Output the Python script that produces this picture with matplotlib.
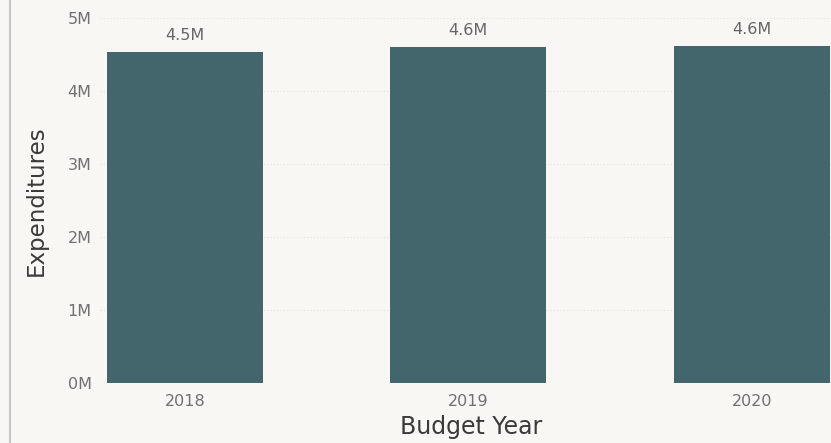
import matplotlib
matplotlib.use("Agg")
import matplotlib.pyplot as plt
from matplotlib.ticker import FuncFormatter
from matplotlib.lines import Line2D

years = ["2018", "2019", "2020"]
expenditures = [4.54e6, 4.60e6, 4.62e6]
bar_labels = ["4.5M", "4.6M", "4.6M"]

bg = "#f9f7f3"
bar_color = "#43656c"

W, H = 831, 443
fig = plt.figure(figsize=(W / 100, H / 100), dpi=100, facecolor=bg)
ax = fig.add_axes([100 / W, 60 / H, 731 / W, 365 / H])
ax.set_facecolor(bg)

x = list(range(len(years)))
bars = ax.bar(x, expenditures, width=0.55, color=bar_color, zorder=3)

ax.set_xlim(-0.3, 2.28)
ax.set_ylim(0, 5e6)
ax.set_yticks([0, 1e6, 2e6, 3e6, 4e6, 5e6])
ax.yaxis.set_major_formatter(FuncFormatter(lambda v, p: f"{int(round(v / 1e6))}M"))
ax.set_xticks(x)
ax.set_xticklabels(years)

ax.grid(axis="y", color="#e4e2de", linestyle=(0, (1, 2)), linewidth=0.8, zorder=0)
for s in ax.spines.values():
    s.set_visible(False)
ax.tick_params(axis="both", length=0, labelsize=11.5, labelcolor="#707070")
ax.tick_params(axis="y", pad=6)
ax.tick_params(axis="x", pad=8)

for rect, lab in zip(bars, bar_labels):
    ax.annotate(lab, (rect.get_x() + rect.get_width() / 2, rect.get_height()),
                xytext=(0, 6.5), textcoords="offset points", ha="center", va="bottom",
                fontsize=11.5, color="#666666")

ax.set_xlabel("Budget Year", fontsize=17, color="#3a3a3a")
ax.xaxis.set_label_coords((471 - 100) / 731, (383 - 415) / 365)
ax.set_ylabel("Expenditures", fontsize=16.5, color="#3a3a3a")
ax.yaxis.set_label_coords((48 - 100) / 731, (383 - 201) / 365)

fig.add_artist(Line2D([9.5 / W, 9.5 / W], [0, 1], transform=fig.transFigure,
                      color="#c4c4c4", linewidth=1.5))

fig.savefig("out.png", dpi=100, facecolor=bg)
